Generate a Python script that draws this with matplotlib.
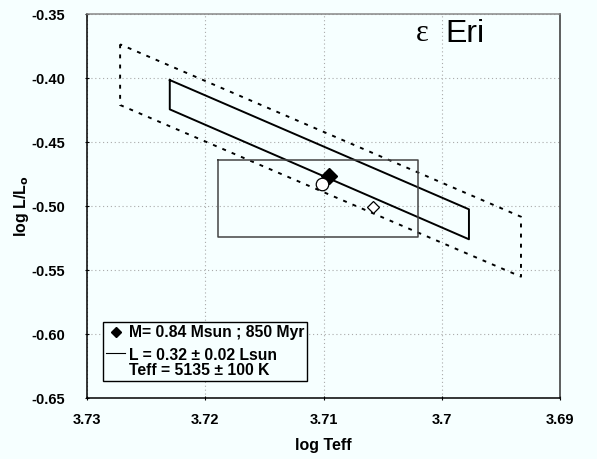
import matplotlib
matplotlib.use("Agg")
import matplotlib.pyplot as plt
from matplotlib.lines import Line2D
from matplotlib.legend_handler import HandlerLine2D

# solid track: L = 0.32 +- 0.02 Lsun
band_x = [3.7230, 3.7230, 3.6977, 3.6977, 3.7230]
band_y = [-0.4016, -0.4245, -0.5260, -0.5026, -0.4016]

# dotted track (wider error)
wide_x = [3.7272, 3.7272, 3.6933, 3.6933, 3.7272]
wide_y = [-0.3737, -0.4211, -0.5552, -0.5084, -0.3737]

# Teff box
box_x = [3.7189, 3.7020, 3.7020, 3.7189, 3.7189]
box_y = [-0.4641, -0.4641, -0.5240, -0.5240, -0.4641]

model_pt = (3.7095, -0.4766)
circle_pt = (3.7101, -0.4831)
open_diamond_pt = (3.7058, -0.5010)

xticks = [3.73, 3.72, 3.71, 3.70, 3.69]
xtick_labels = ["3.73", "3.72", "3.71", "3.7", "3.69"]
yticks = [-0.65, -0.60, -0.55, -0.50, -0.45, -0.40, -0.35]


class RaisedLine(HandlerLine2D):
    # put the line handle next to the first line of a two-line label
    def create_artists(self, legend, orig_handle, xdescent, ydescent,
                       width, height, fontsize, trans):
        return super().create_artists(legend, orig_handle, xdescent, ydescent - 15,
                                      width, height, fontsize, trans)


bg = "#f6ffff"
plt.rcParams["font.family"] = ["Liberation Sans", "DejaVu Sans"]
plt.rcParams["font.weight"] = "bold"
plt.rcParams["mathtext.default"] = "bf"

fig = plt.figure(figsize=(5.97, 4.59), dpi=100, facecolor=bg)
ax = fig.add_axes([87/597, 1 - 398/459, 473/597, 384/459])
ax.set_facecolor(bg)

ax.plot(wide_x, wide_y, color="black", lw=1.4, dashes=(2, 3.2))
ax.plot(band_x, band_y, color="black", lw=1.4)
ax.plot(box_x, box_y, color="#444444", lw=1.1)

ax.plot(*model_pt, marker="D", ms=8, color="black", ls="none")
ax.plot(*circle_pt, marker="o", ms=9, mfc="white", mec="black", mew=0.9, ls="none")
ax.plot(*open_diamond_pt, marker="D", ms=6.5, mfc="white", mec="black", mew=0.9, ls="none")

ax.text(3.7022, -0.3655, "\u03b5", family="Liberation Serif", fontsize=22, fontweight="normal",
        ha="left", va="center")
ax.text(3.6997, -0.3655, "Eri", fontsize=23, fontweight="normal", ha="left", va="center")

ax.set_xlim(3.73, 3.69)
ax.set_ylim(-0.65, -0.35)
ax.set_xticks(xticks)
ax.set_xticklabels(xtick_labels)
ax.set_yticks(yticks)
ax.set_yticklabels([f"{v:.2f}" for v in yticks])
ax.grid(True, color="#aaaaaa", ls=(0, (1, 2.5)), lw=0.8)
ax.tick_params(labelsize=10.5, direction="inout", length=3, width=0.8)
ax.tick_params(axis="x", pad=9)
ax.tick_params(axis="y", pad=14)
for lbl in ax.get_xticklabels() + ax.get_yticklabels():
    lbl.set_fontweight("bold")

for s in ["left", "bottom"]:
    ax.spines[s].set_color("black")
ax.spines["top"].set_color("#888888")
ax.spines["right"].set_color("#333333")
for s in ax.spines.values():
    s.set_linewidth(1.1)

ax.set_xlabel("log Teff", fontsize=11.5, fontweight="bold", labelpad=8)
ax.set_ylabel("log L/L$_o$", fontsize=11.5, fontweight="bold", labelpad=0.5)

handles = [
    Line2D([], [], marker="D", ms=5, color="black", ls="none"),
    Line2D([], [], color="black", lw=0.8),
]
labels = ["M= 0.84 Msun ; 850 Myr", "L = 0.32 \u00b1 0.02 Lsun\nTeff = 5135 \u00b1 100 K"]
leg = ax.legend(handles, labels, loc="lower left", bbox_to_anchor=(0.034, 0.044),
                fancybox=False, edgecolor="black", facecolor=bg, framealpha=1,
                prop={"weight": "bold", "size": 11.3}, handlelength=1.2, handletextpad=0.25,
                borderpad=0.2, labelspacing=0.5, borderaxespad=0,
                handler_map={handles[1]: RaisedLine()})
leg.get_frame().set_linewidth(1.0)
for t in leg.get_texts():
    t.set_linespacing(1.0)

fig.savefig("out.png", dpi=100, facecolor=bg)
